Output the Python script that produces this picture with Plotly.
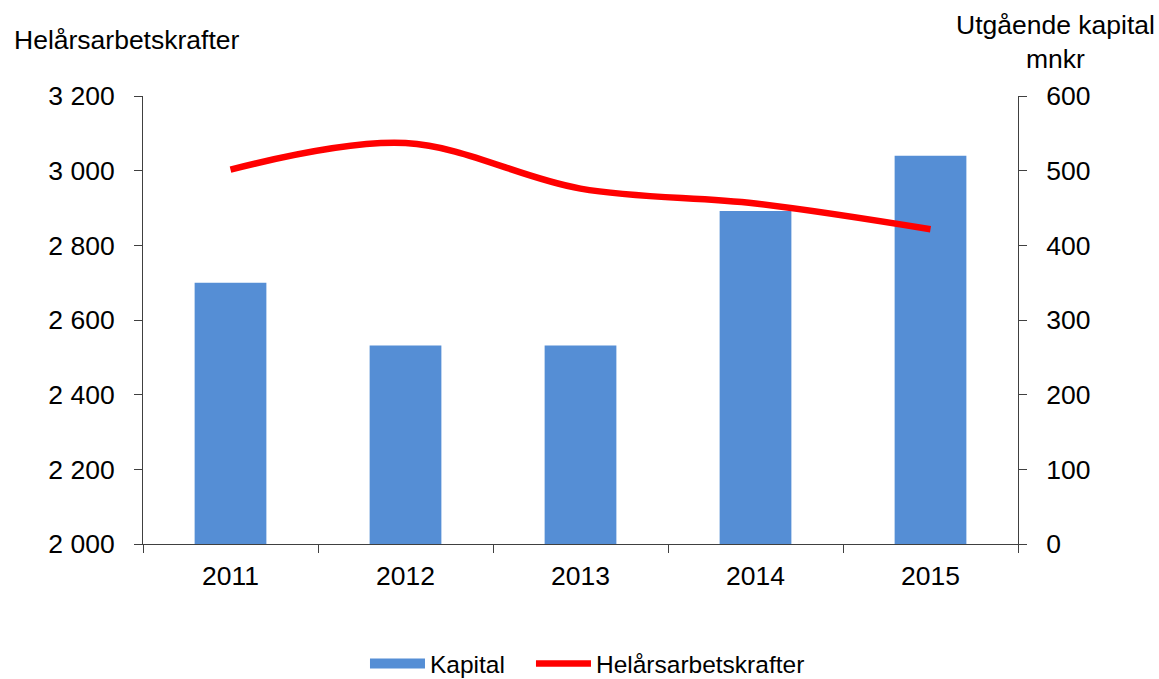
import plotly.graph_objects as go

years = ["2011", "2012", "2013", "2014", "2015"]
kapital = [350, 266, 266, 446, 520]          # Utgående kapital, mnkr (right axis)
arbetskrafter = [3003, 3074, 2952, 2912, 2843]  # Helårsarbetskrafter (left axis)

left_ticks = [2000, 2200, 2400, 2600, 2800, 3000, 3200]
right_ticks = [0, 100, 200, 300, 400, 500, 600]

FONT = "Liberation Sans, Arial, sans-serif"
FS = 26.5
LFS = 24.5
AXC = "#404040"
BLUE = "#558ED5"
RED = "#FF0000"

fig = go.Figure()
fig.add_trace(go.Bar(
    x=years, y=kapital, name="Kapital", yaxis="y", showlegend=False,
    marker=dict(color=BLUE, line=dict(width=0)), width=0.41,
))
# legend key for the bars (wide rectangle look)
fig.add_trace(go.Scatter(
    x=[None], y=[None], name="Kapital", yaxis="y", mode="lines",
    line=dict(color=BLUE, width=15), hoverinfo="skip", legend="legend",
))
fig.add_trace(go.Scatter(
    x=years, y=arbetskrafter, name="Helårsarbetskrafter", yaxis="y2",
    mode="lines", line=dict(color=RED, width=6.5, shape="spline", smoothing=1),
    legend="legend2",
))

LEG_Y = -0.267
leg_common = dict(orientation="h", y=LEG_Y, yanchor="middle", xanchor="left",
                  font=dict(size=LFS), itemwidth=55, bgcolor="rgba(0,0,0,0)")

fig.update_layout(
    width=1159, height=679,
    margin=dict(l=143, r=141, t=96, b=135, autoexpand=False),
    paper_bgcolor="white", plot_bgcolor="white",
    font=dict(family=FONT, size=FS, color="black"),
    separators=". ",
    showlegend=True,
    legend=dict(x=0.2537, **leg_common),
    legend2=dict(x=0.4434, **leg_common),
    xaxis=dict(
        type="category", showline=True, linecolor=AXC, linewidth=1,
        ticks="outside", tickson="boundaries", ticklen=8, tickcolor=AXC,
        showgrid=False, ticklabelstandoff=8,
    ),
    yaxis=dict(
        side="right", range=[0, 600], tickvals=right_ticks,
        showline=True, linecolor=AXC, linewidth=1, ticks="outside", ticklen=8,
        tickcolor=AXC, showgrid=False, zeroline=False, ticklabelstandoff=14,
    ),
    yaxis2=dict(
        side="left", overlaying="y", range=[2000, 3200], tickvals=left_ticks,
        tickformat=",d", showline=True, linecolor=AXC, linewidth=1, ticks="outside",
        ticklen=8, tickcolor=AXC, showgrid=False, zeroline=False, ticklabelstandoff=14,
    ),
    annotations=[
        dict(text="Helårsarbetskrafter", xref="paper", yref="paper", x=-0.1497, y=1.124,
             xanchor="left", yanchor="middle", showarrow=False, font=dict(size=FS)),
        dict(text="Utgående kapital<br>mnkr", xref="paper", yref="paper", x=1.0423, y=1.12,
             xanchor="center", yanchor="middle", showarrow=False, align="center",
             font=dict(size=FS)),
    ],
)

fig.write_html("out.html", config={"displayModeBar": False},
               post_script="document.body.style.margin='0';")
